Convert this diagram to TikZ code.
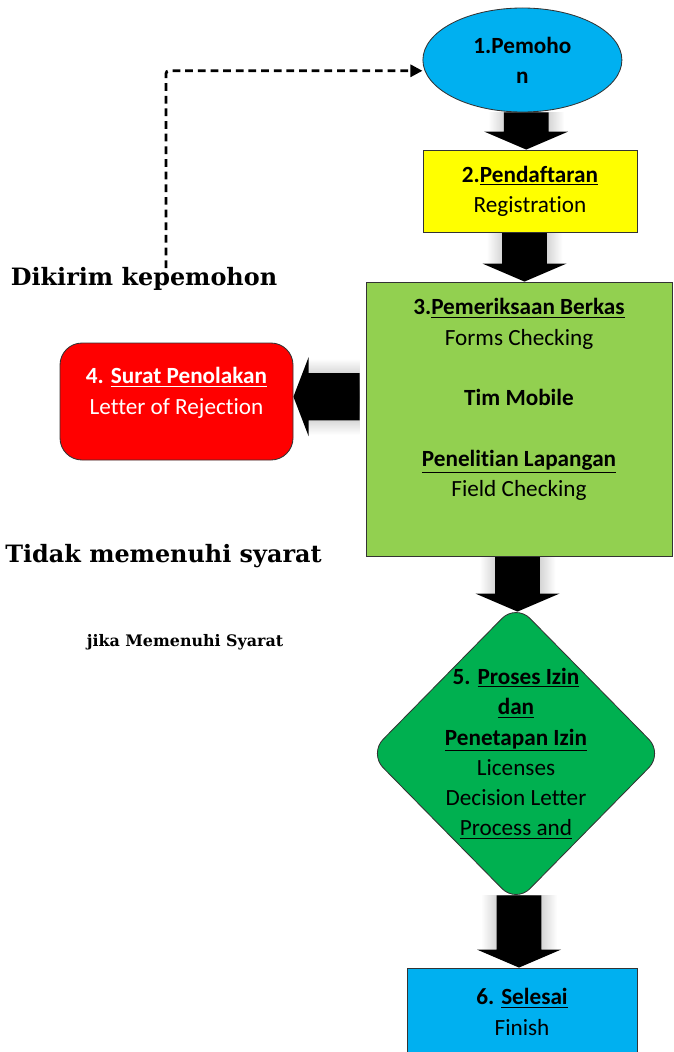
\documentclass[tikz,border=0pt]{standalone}
\usepackage{fontspec}
\setmainfont{Carlito}[Ligatures=NoCommon]
\newfontfamily\serifbold{DejaVu Serif}
\usetikzlibrary{positioning, calc, shapes.geometric, arrows.meta, backgrounds}

\definecolor{biru}{RGB}{0,176,240}
\definecolor{kuning}{RGB}{255,255,0}
\definecolor{hijaumuda}{RGB}{146,208,80}
\definecolor{hijau}{RGB}{0,176,80}
\definecolor{merahtua}{RGB}{255,0,0}

% panah blok ke bawah: #1 titik asal, #2 titik ujung
\newcommand{\panahbawah}[2]{%
  \coordinate (pa) at (#1);
  \coordinate (pb) at (#2);
  \coordinate (pm) at ($(pa)!0.5!(pb)$);
  \coordinate (pt) at (pm |- pa);
  \coordinate (pu) at (pm |- pb);
  \begin{scope}[on background layer]
    \shade[glowv] ($(pt)+(-0.95,0)$) rectangle ($(pu)+(0.95,0.45)$);
    \fill[blok] ($(pt)+(-0.56,0)$) -- ($(pt)+(0.56,0)$) -- ($(pu)+(0.56,0.45)$) -- ($(pu)+(1.05,0.45)$)
      -- (pu) -- ($(pu)+(-1.05,0.45)$) -- ($(pu)+(-0.56,0.45)$) -- cycle;
  \end{scope}
}
% panah blok ke kiri
\newcommand{\panahkiri}[2]{%
  \coordinate (pa) at (#1);
  \coordinate (pb) at (#2);
  \coordinate (pt) at (pa |- pb);
  \begin{scope}[on background layer]
    \shade[glowh] ($(pt)+(0,0.95)$) rectangle ($(pb)+(0.38,-0.95)$);
    \fill[blok] ($(pt)+(0,0.59)$) -- ($(pt)+(0,-0.59)$) -- ($(pb)+(0.38,-0.59)$) -- ($(pb)+(0.38,-0.99)$)
      -- (pb) -- ($(pb)+(0.38,0.99)$) -- ($(pb)+(0.38,0.59)$) -- cycle;
  \end{scope}
}

\begin{document}
\begin{tikzpicture}[
    teks/.style={font=\fontsize{16.5}{21.5}\selectfont, align=center, inner sep=0pt},
    % Gaya kotak
    kotak/.style={draw=black!80, rectangle, line width=0.6pt, inner sep=0pt},
    kuningbox/.style={kotak, fill=kuning, minimum width=5.35cm, minimum height=2.05cm},
    cekbox/.style={kotak, fill=hijaumuda, minimum width=7.65cm, minimum height=6.85cm},
    tolakbox/.style={kotak, fill=merahtua, rounded corners=0.55cm, minimum width=5.825cm, minimum height=2.925cm},
    selesaibox/.style={kotak, fill=biru, minimum width=5.75cm, minimum height=2.2cm},
    label/.style={font=\serifbold\bfseries\fontsize{17}{20}\selectfont, inner sep=0pt},
    blok/.style={fill=black},
    glowv/.style={left color=white, right color=white, middle color=black!40},
    glowh/.style={top color=white, bottom color=white, middle color=black!40},
    balikline/.style={line width=2pt, dash pattern=on 5.5pt off 3.5pt, rounded corners=2pt,
        -{Triangle[length=0.3cm, width=0.3cm]}}
]
    \useasboundingbox (0,0) rectangle (16.825,-26.3);

    % --- SIMPUL ---
    \node[draw=black!80, ellipse, fill=biru, line width=0.6pt, inner sep=0pt,
        minimum width=4.975cm, minimum height=2.6cm, teks, font=\fontsize{16.5}{21.5}\selectfont\bfseries]
        (pemohon) at (13.06,-1.5) {1.Pemoho\\n};
    \node[kuningbox, teks] (daftar) at (13.25,-4.775) {\textbf{2.\underline{Pendaftaran}}\\Registration};

    % Pemeriksaan berkas (teks digeser ke atas)
    \node[cekbox] (cek) at (12.975,-10.475) {};
    \node[teks, anchor=north] (cektxt) at ([yshift=-0.42cm]cek.north)
        {\textbf{3.\underline{Pemeriksaan Berkas}}\\Forms Checking\\[21.5pt]\textbf{Tim Mobile}\\[21.5pt]
         \textbf{\underline{Penelitian Lapangan}}\\Field Checking};

    % Surat penolakan
    \node[tolakbox] (tolak) at (4.4125,-10.0375) {};
    \node[teks, text=white, anchor=north] (tolaktxt) at ([yshift=-0.62cm]tolak.north)
        {\textbf{4. \underline{Surat Penolakan}}\\Letter of Rejection};

    % Proses izin
    \node[diamond, draw=black!80, fill=hijau, line width=0.6pt, inner sep=0pt, rounded corners=0.5cm,
        minimum width=7.35cm, minimum height=7.475cm] (proses) at (12.9,-18.8375) {};
    \node[teks] (prosestxt) at (proses.center)
        {\textbf{5. \underline{Proses Izin}}\\\textbf{\underline{dan}}\\\textbf{\underline{Penetapan Izin}}\\
         Licenses\\Decision Letter\\\underline{Process and}};

    \node[selesaibox, teks] (selesai) at (13.05,-25.3) {\textbf{6. \underline{Selesai}}\\Finish};

    % Keterangan
    \node[label] (dikirim) at (3.6,-6.98) {Dikirim kepemohon};
    \node[label, anchor=east] (tidak) at (8.05,-13.9) {Tidak memenuhi syarat};
    \node[label, font=\serifbold\bfseries\fontsize{11.3}{13}\selectfont] (jika) at (4.625,-16.05) {jika Memenuhi Syarat};
    \coordinate (balik) at (4.15,-6.7);

    % --- PANAH ---
    \panahbawah{pemohon.south}{daftar.north}
    \panahbawah{daftar.south}{cek.north}
    \panahbawah{cek.south}{$(proses.north)+(0,-0.2)$}
    \panahbawah{$(proses.south)+(0,0.2)$}{selesai.north}
    \panahkiri{$(cek.west)+(-0.15,0)$}{$(tolak.east)+(0,0.12)$}

    % Dikirim kembali ke pemohon
    \draw[balikline] (balik) |- ([yshift=-0.27cm]pemohon.west);

\end{tikzpicture}
\end{document}
